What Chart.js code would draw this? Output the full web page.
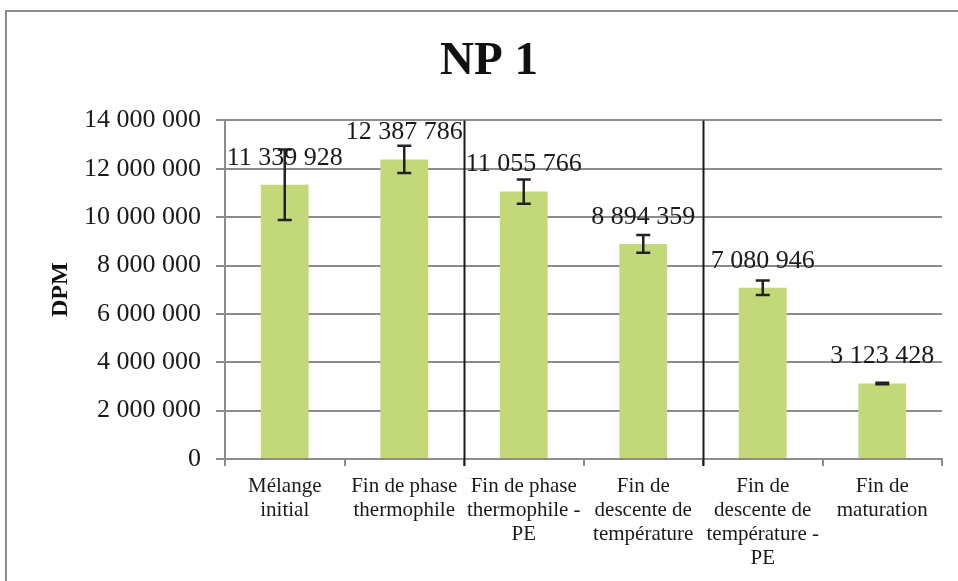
<!DOCTYPE html>
<html>
<head>
<meta charset="utf-8">
<script src="https://cdn.jsdelivr.net/npm/chart.js@4"></script>
<style>
  html, body { margin: 0; padding: 0; background: #fff; }
  #wrap { width: 958px; height: 581px; position: relative; }
</style>
</head>
<body>
<div id="wrap"><canvas id="np1Chart" width="958" height="581"></canvas></div>
<script>
var categories = [
    ['Mélange', 'initial'],
    ['Fin de phase', 'thermophile'],
    ['Fin de phase', 'thermophile -', 'PE'],
    ['Fin de', 'descente de', 'température'],
    ['Fin de', 'descente de', 'température -', 'PE'],
    ['Fin de', 'maturation']
];
var dpmValues = [11339928, 12387786, 11055766, 8894359, 7080946, 3123428];
var dpmErrors = [1460000, 560000, 500000, 370000, 300000, 30000];
var separatorsAfter = [1, 3];

var serif = '"Liberation Serif", "Times New Roman", serif';

function spaced(v) {
    return Math.round(v).toString().replace(/\B(?=(\d{3})+(?!\d))/g, ' ');
}

// frame, separator lines, error bars and value labels
var extras = {
    id: 'extras',
    beforeDraw: function (chart) {
        var ctx = chart.ctx;
        ctx.save();
        ctx.strokeStyle = '#8c8c8c';
        ctx.lineWidth = 2;
        ctx.strokeRect(6, 11, 1000, 1000);
        ctx.restore();
    },
    afterDatasetsDraw: function (chart) {
        var ctx = chart.ctx;
        var y = chart.scales.y;
        var area = chart.chartArea;
        var step = (area.right - area.left) / categories.length;
        ctx.save();
        ctx.strokeStyle = '#1a1a1a';
        ctx.lineWidth = 2;
        separatorsAfter.forEach(function (i) {
            var sx = Math.round(area.left + step * (i + 1)) + 0.5;
            ctx.beginPath();
            ctx.moveTo(sx, area.top);
            ctx.lineTo(sx, area.bottom + 7);
            ctx.stroke();
        });
        var meta = chart.getDatasetMeta(0);
        ctx.lineWidth = 2.5;
        ctx.strokeStyle = '#222';
        meta.data.forEach(function (bar, i) {
            var top = y.getPixelForValue(dpmValues[i] + dpmErrors[i]);
            var bot = y.getPixelForValue(dpmValues[i] - dpmErrors[i]);
            ctx.beginPath();
            ctx.moveTo(bar.x, top); ctx.lineTo(bar.x, bot);
            ctx.moveTo(bar.x - 7, top); ctx.lineTo(bar.x + 7, top);
            ctx.moveTo(bar.x - 7, bot); ctx.lineTo(bar.x + 7, bot);
            ctx.stroke();
        });
        ctx.fillStyle = '#1a1a1a';
        ctx.font = '26px ' + serif;
        ctx.textAlign = 'center';
        ctx.textBaseline = 'middle';
        meta.data.forEach(function (bar, i) {
            ctx.fillText(spaced(dpmValues[i]), bar.x, bar.y - 27);
        });
        ctx.restore();
    }
};

var ctx = document.getElementById('np1Chart').getContext('2d');
var chart = new Chart(ctx, {
    type: 'bar',
    data: {
        labels: categories,
        datasets: [{
            label: 'DPM',
            data: dpmValues,
            backgroundColor: '#c3d979',
            borderWidth: 0,
            barPercentage: 0.4,
            categoryPercentage: 1
        }]
    },
    options: {
        responsive: false,
        animation: false,
        layout: { padding: { left: 36, right: 16, top: 0, bottom: 0 } },
        plugins: {
            legend: { display: false },
            tooltip: { enabled: false },
            title: {
                display: true,
                text: 'NP 1',
                color: '#111',
                font: { family: serif, size: 47, weight: 'bold' },
                padding: { top: 34, bottom: 30 }
            }
        },
        scales: {
            x: {
                grid: {
                    offset: true,
                    drawOnChartArea: false,
                    color: '#8c8c8c',
                    lineWidth: 2,
                    tickLength: 7
                },
                border: { color: '#8c8c8c', width: 2 },
                ticks: {
                    color: '#1a1a1a',
                    maxRotation: 0,
                    autoSkip: false,
                    padding: 9,
                    font: { family: serif, size: 21, lineHeight: 1.14 }
                },
                afterFit: function (scale) { scale.height = 122; }
            },
            y: {
                min: 0,
                max: 14000000,
                grid: { color: '#8c8c8c', lineWidth: 2, tickLength: 9 },
                border: { color: '#8c8c8c', width: 2 },
                ticks: {
                    stepSize: 2000000,
                    color: '#1a1a1a',
                    padding: 15,
                    font: { family: serif, size: 26 },
                    callback: function (v) { return spaced(v); }
                },
                title: {
                    display: true,
                    text: 'DPM',
                    color: '#111',
                    font: { family: serif, size: 24, weight: 'bold' },
                    padding: { top: 10, bottom: 0 }
                },
                afterFit: function (scale) { scale.width = 189; }
            }
        }
    },
    plugins: [extras]
});
</script>
</body>
</html>
